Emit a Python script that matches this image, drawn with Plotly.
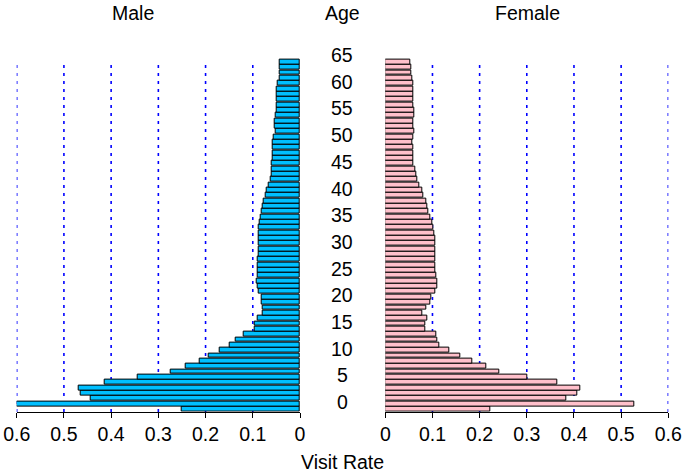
import plotly.graph_objects as go

ages = list(range(66))
male = [0.251, 0.600, 0.443, 0.464, 0.469, 0.413, 0.343, 0.274, 0.243, 0.213,
        0.194, 0.171, 0.148, 0.137, 0.119, 0.096, 0.095, 0.089, 0.078, 0.078,
        0.081, 0.081, 0.088, 0.090, 0.091, 0.090, 0.090, 0.090, 0.089, 0.088,
        0.088, 0.088, 0.088, 0.088, 0.087, 0.085, 0.083, 0.081, 0.079, 0.076,
        0.073, 0.070, 0.066, 0.063, 0.060, 0.059, 0.059, 0.058, 0.058, 0.058,
        0.057, 0.055, 0.052, 0.054, 0.053, 0.052, 0.050, 0.050, 0.050, 0.050,
        0.049, 0.047, 0.044, 0.042, 0.044, 0.042]
female = [0.222, 0.528, 0.384, 0.406, 0.413, 0.365, 0.300, 0.242, 0.215, 0.184,
          0.160, 0.136, 0.114, 0.110, 0.109, 0.085, 0.085, 0.088, 0.079, 0.086,
          0.095, 0.098, 0.106, 0.110, 0.110, 0.109, 0.107, 0.107, 0.107, 0.106,
          0.105, 0.106, 0.105, 0.103, 0.102, 0.099, 0.095, 0.092, 0.089, 0.086,
          0.081, 0.078, 0.073, 0.067, 0.065, 0.063, 0.060, 0.059, 0.059, 0.059,
          0.058, 0.059, 0.061, 0.060, 0.060, 0.061, 0.061, 0.060, 0.060, 0.060,
          0.059, 0.059, 0.057, 0.056, 0.055, 0.053]
age_labels = list(range(0, 66, 5))
tick_vals = [0, 0.1, 0.2, 0.3, 0.4, 0.5, 0.6]
tick_text = ["0", "0.1", "0.2", "0.3", "0.4", "0.5", "0.6"]
grid_vals = [0.1, 0.2, 0.3, 0.4, 0.5, 0.6]

W, H = 685, 474
FONT = "Liberation Sans, Arial, Helvetica, sans-serif"
FS = 19.5
PITCH = 5.34

def px(x):
    return x / W

def py(y):
    return 1 - y / H

fig = go.Figure()
fig.add_trace(go.Bar(x=male, y=ages, orientation="h", xaxis="x", yaxis="y",
                     width=0.92, marker=dict(color="#00BFFF", line=dict(color="black", width=1)),
                     showlegend=False))
fig.add_trace(go.Bar(x=female, y=ages, orientation="h", xaxis="x2", yaxis="y",
                     width=0.92, marker=dict(color="#FFC0CB", line=dict(color="black", width=1)),
                     showlegend=False))

axis_common = dict(showgrid=False, zeroline=False, showline=True, linecolor="black",
                   linewidth=1, ticks="outside", ticklen=5, tickcolor="black",
                   tickwidth=1, tickvals=tick_vals, ticktext=tick_text,
                   tickfont=dict(family=FONT, size=FS, color="black"), anchor="y",
                   fixedrange=True, automargin=False)

shapes = []
for g in grid_vals:
    for xr in ("x", "x2"):
        shapes.append(dict(type="line", xref=xr, yref="paper", x0=g, x1=g,
                           y0=py(412), y1=py(65), layer="below",
                           line=dict(color="#0000FF", width=1.6, dash="3px,5px")))

annotations = []
for a in age_labels:
    annotations.append(dict(x=px(342), xref="paper", y=a + 1.3, yref="y",
                            text=str(a), showarrow=False, xanchor="center",
                            yanchor="middle", font=dict(family=FONT, size=FS, color="black")))
for txt, x in (("Male", 133), ("Age", 342), ("Female", 527)):
    annotations.append(dict(x=px(x), xref="paper", y=py(13), yref="paper", text=txt,
                            showarrow=False, xanchor="center", yanchor="middle",
                            font=dict(family=FONT, size=FS, color="black")))
annotations.append(dict(x=px(342), xref="paper", y=py(462), yref="paper", text="Visit Rate",
                        showarrow=False, xanchor="center", yanchor="middle",
                        font=dict(family=FONT, size=FS, color="black")))

fig.update_layout(
    width=W, height=H,
    margin=dict(l=0, r=0, t=0, b=0, pad=0),
    paper_bgcolor="white", plot_bgcolor="white",
    xaxis=dict(domain=[px(16.7), px(300)], range=[0.6, 0], **axis_common),
    xaxis2=dict(domain=[px(385.3), px(668.3)], range=[0, 0.6], **axis_common),
    yaxis=dict(domain=[py(411.7), py(59.3 - 2 * PITCH)], range=[-0.5, 67.5], visible=False,
               fixedrange=True, automargin=False),
    bargap=0,
    shapes=shapes,
    annotations=annotations,
)

fig.write_html("out.html", config={"displayModeBar": False},
               post_script="document.body.style.margin='0';")
